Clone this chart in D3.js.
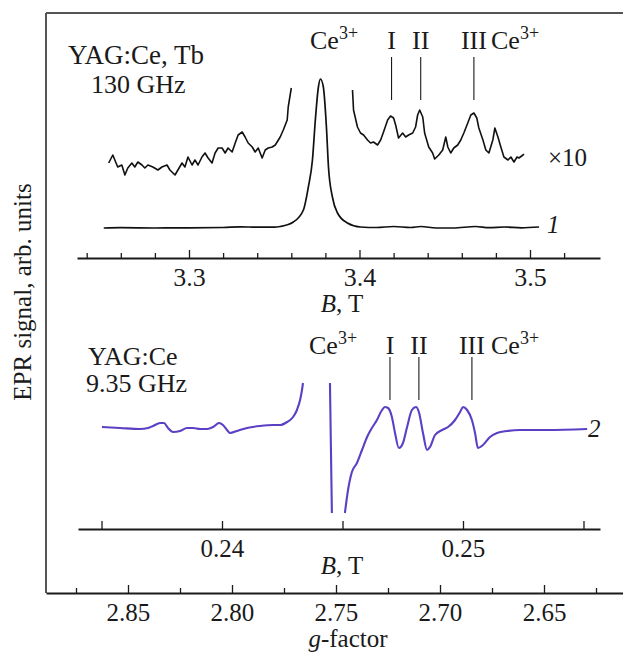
<!DOCTYPE html>
<html><head><meta charset="utf-8">
<script src="https://cdn.jsdelivr.net/npm/d3@7"></script>
<style>
body{margin:0;background:#fff}
svg{display:block}
svg text{font-family:"Liberation Serif","Times New Roman",Times,"DejaVu Serif","Noto Serif",serif !important;fill:#1a1a1a}
</style>
</head><body>
<svg id="c" width="623" height="656" font-family="Liberation Serif, Times New Roman, DejaVu Serif, serif"></svg>
<script>
// ---------- DATA ----------
// Top panel, 130 GHz, trace 1 (x1)
const top1B = [3.25,3.26,3.28,3.30,3.32,3.33,3.34,3.35,3.3535,3.3612,3.3671,3.3700,3.3724,3.3741,3.3759,3.3771,3.3788,3.3806,3.3818,3.3841,3.3871,3.3929,3.4006,3.41,3.42,3.43,3.436,3.445,3.455,3.468,3.476,3.485,3.495,3.5053];
const top1S = [0,0.3,0,0.2,0.5,1.2,0.8,0.8,1.5,6,18,41,68,108,141,149,141,101,61,31,15,5,1,0.5,1.5,0.5,1.5,0,0,1.5,0.3,1,0.2,1];
// Top panel, x10 trace, low-field part
const top10aB = [3.2529,3.2553,3.2565,3.2582,3.2606,3.2624,3.2641,3.2665,3.2682,3.2700,3.2724,3.2741,3.2759,3.2788,3.2818,3.2841,3.2871,3.2888,3.2918,3.2935,3.2959,3.2976,3.2994,3.3018,3.3035,3.3053,3.3076,3.3094,3.3112,3.3135,3.3153,3.3171,3.3194,3.3212,3.3229,3.3253,3.3271,3.3288,3.3312,3.3329,3.3347,3.3371,3.3388,3.3406,3.3429,3.3447,3.3465,3.3488,3.3506,3.3535,3.3553,3.3576,3.3582,3.3600];
const top10aS = [65,73,68,61,63,53,60,65,61,66,63,60,63,61,58,61,63,58,53,58,65,61,71,63,68,63,71,75,70,65,75,80,80,75,80,76,85,93,96,91,85,81,76,80,70,78,80,81,83,91,98,108,121,140];
// Top panel, x10 trace, high-field part
const top10bB = [3.3959,3.3965,3.3988,3.4006,3.4024,3.4047,3.4065,3.4082,3.4106,3.4124,3.4141,3.4165,3.4182,3.4200,3.4212,3.4229,3.4253,3.4271,3.4288,3.4312,3.4329,3.4341,3.4353,3.4371,3.4382,3.4406,3.4429,3.4441,3.4465,3.4488,3.4506,3.4518,3.4535,3.4553,3.4576,3.4594,3.4612,3.4635,3.4653,3.4671,3.4688,3.4700,3.4724,3.4741,3.4759,3.4782,3.4794,3.4812,3.4829,3.4847,3.4871,3.4888,3.4906,3.4924,3.4935,3.4959,3.4965];
const top10bS = [138,118,101,95,93,88,85,86,83,88,96,108,112,110,103,90,95,91,93,95,101,113,118,111,95,81,75,69,73,78,91,81,75,80,83,88,95,105,113,115,110,100,88,78,75,88,100,91,81,71,68,71,66,71,70,73,74];
// Bottom panel, 9.35 GHz, derivative trace (null = break)
const botB = [0.23502,0.23577,0.23660,0.23693,0.23714,0.23743,0.23759,0.23776,0.23797,0.23826,0.23855,0.23880,0.23909,0.23938,0.23963,0.23988,0.24004,0.24021,0.24033,0.24062,0.24104,0.24158,0.24212,0.24241,0.24270,0.24295,0.24311,0.24324,0.24332,0.24336,
  null,
  0.24448,0.24456,
  null,
  0.24510,0.24523,0.24539,0.24560,0.24581,0.24602,0.24622,0.24643,0.24664,0.24676,0.24689,0.24705,0.24718,0.24734,0.24751,0.24768,0.24788,0.24805,0.24817,0.24834,0.24851,0.24863,0.24884,0.24913,0.24938,0.24967,0.24988,0.25000,0.25017,0.25037,0.25050,0.25062,0.25083,0.25112,0.25141,0.25183,0.25237,0.25349,0.25515];
const botS = [3,2,1,2,4,7,7,2,-2,-1,2,2,1,1,3,7,5,0,-3,-1,2,4,5,5,8,13,20,30,40,47,
  null,
  47,-83,
  null,
  -83,-60,-42,-33,-20,-7,2,10,20,23,22,13,-3,-18,-13,3,20,23,18,-3,-20,-17,-5,0,3,10,18,23,20,10,-3,-18,-15,-7,-3,-1,0,0,1];
// Marker positions (I, II, III)
const markerLabels = ["I","II","III"];
const topMarkerB = [3.4188,3.4359,3.4671];
const botMarkerB = [0.24697,0.24817,0.25037];
// Ticks
const topMajor = [3.3,3.4,3.5];
const topMinor = [3.24,3.26,3.28,3.32,3.34,3.36,3.38,3.42,3.44,3.46,3.48,3.52];
const botTicks = [0.235,0.24,0.245,0.25,0.255];
const botLabels = [0.24,0.25];
const gMajor = [2.85,2.80,2.75,2.70,2.65];
const gMinor = [2.875,2.825,2.775,2.725,2.675,2.625];

// ---------- LAYOUT ----------
const svg = d3.select("#c");
const FS = 25, FL = 26;
const FF = '"Liberation Serif","Times New Roman",Times,"DejaVu Serif",serif';
const ink = "#1a1a1a";

const xTop = d3.scaleLinear().domain([3.23431,3.54106]).range([77,600]);
const yTop = d3.scaleLinear().domain([0,150]).range([228,78]);
const xBot = d3.scaleLinear().domain([0.234025,0.255685]).range([78,600]);
const yBot = d3.scaleLinear().domain([0,100]).range([430,330]);
const xG = d3.scaleLinear().domain([2.88942,2.61202]).range([46,623]);

// frame
svg.append("line").attr("x1",46).attr("x2",46).attr("y1",13).attr("y2",593).attr("stroke","#555").attr("stroke-width",2);
svg.append("line").attr("x1",46).attr("x2",623).attr("y1",13).attr("y2",13).attr("stroke","#555").attr("stroke-width",2);

function styleAxis(g, labelY, fs){
  g.attr("font-family", FF);
  g.select(".domain").attr("stroke",ink).attr("stroke-width",2.2);
  g.selectAll(".tick line").attr("stroke",ink).attr("stroke-width",1.3);
  g.selectAll(".tick text").attr("fill",ink).style("font-size",fs+"px")
    .style("font-family",FF)
    .attr("y",labelY).attr("dy",null);
}
function addAxis(scale, y, major, minor, labels, fmt, fs){
  if (minor && minor.length){
    const gm = svg.append("g").attr("transform",`translate(0,${y})`)
      .call(d3.axisBottom(scale).tickValues(minor).tickSize(-5).tickSizeOuter(0).tickFormat(""));
    gm.select(".domain").remove();
    gm.selectAll(".tick line").attr("stroke",ink).attr("stroke-width",1.3);
  }
  const g = svg.append("g").attr("transform",`translate(0,${y})`)
    .call(d3.axisBottom(scale).tickValues(major).tickSize(-8).tickSizeOuter(0)
      .tickFormat(d => labels.includes(d) ? fmt(d) : ""));
  styleAxis(g, 28, fs);
  return g;
}
addAxis(xTop, 258, topMajor, topMinor, topMajor, d3.format(".1f"), 26);
addAxis(xBot, 529, botTicks, [], botLabels, d3.format(".2f"), FS);
addAxis(xG, 593, gMajor, gMinor, gMajor, d3.format(".2f"), FS);

// traces
const lineTop = d3.line().x(d=>xTop(d[0])).y(d=>yTop(d[1]));
const zip = (a,b)=>a.map((v,i)=>[v,b[i]]);
svg.append("path").datum(zip(top1B,top1S))
  .attr("d", d3.line().x(d=>xTop(d[0])).y(d=>yTop(d[1])).curve(d3.curveMonotoneX))
  .attr("fill","none").attr("stroke","#111").attr("stroke-width",1.7).attr("stroke-linejoin","round");
[[top10aB,top10aS],[top10bB,top10bS]].forEach(([b,s])=>{
  svg.append("path").datum(zip(b,s)).attr("d", lineTop)
    .attr("fill","none").attr("stroke","#111").attr("stroke-width",1.6).attr("stroke-linejoin","round");
});
svg.append("path").datum(zip(botB,botS))
  .attr("d", d3.line().defined(d=>d[0]!==null).x(d=>xBot(d[0])).y(d=>yBot(d[1])).curve(d3.curveMonotoneX))
  .attr("fill","none").attr("stroke","#5b3fc4").attr("stroke-width",2.1).attr("stroke-linejoin","round");

function T(x,y,fs){
  return svg.append("text").attr("x",x).attr("y",y).attr("font-family",FF).style("font-family",FF).style("font-size",(fs||FS)+"px");
}
// marker lines + labels
topMarkerB.forEach((b,i)=>{
  svg.append("line").attr("x1",xTop(b)).attr("x2",xTop(b)).attr("y1",57).attr("y2",100).attr("stroke",ink).attr("stroke-width",1.1);
  T(xTop(b),49,FL).attr("text-anchor","middle").text(markerLabels[i]);
});
botMarkerB.forEach((b,i)=>{
  svg.append("line").attr("x1",xBot(b)).attr("x2",xBot(b)).attr("y1",357).attr("y2",400).attr("stroke",ink).attr("stroke-width",1.1);
  T(xBot(b),354,FL).attr("text-anchor","middle").text(markerLabels[i]);
});

function ce(x,y){
  const t = T(x,y,FL);
  t.append("tspan").text("Ce");
  t.append("tspan").attr("dy",-10).style("font-size","18px").text("3+");
}
ce(310,49); ce(491,49); ce(309,354); ce(491,354);

function txt(x,y,s,opt={}){
  const t = T(x,y,opt.fs).attr("text-anchor",opt.anchor||"start");
  if(opt.italic) t.style("font-style","italic");
  t.text(s);
  return t;
}
txt(68,64,"YAG:Ce, Tb",{fs:27});
txt(91,93,"130 GHz",{fs:26});
txt(88,365,"YAG:Ce",{fs:26});
txt(86,392,"9.35 GHz",{fs:26});
txt(548,166,"×10");
txt(547,233,"1",{italic:true});
txt(588,437,"2",{italic:true});

function bt(y){
  const t = T(342,y).attr("text-anchor","middle");
  t.append("tspan").style("font-style","italic").text("B");
  t.append("tspan").text(", T");
}
bt(312); bt(574);
{
  const t = T(348,647).attr("text-anchor","middle");
  t.append("tspan").style("font-style","italic").text("g");
  t.append("tspan").text("-factor");
}
T(0,0).attr("x",null).attr("y",null).attr("transform","translate(31,292) rotate(-90)").attr("text-anchor","middle")
  .text("EPR signal, arb. units");
</script>
</body></html>
